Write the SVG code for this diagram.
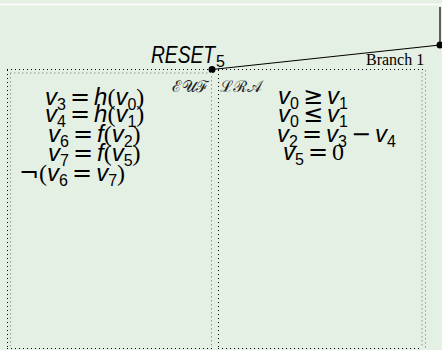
<svg xmlns="http://www.w3.org/2000/svg" width="442" height="350" viewBox="0 0 442 350">
<style>
.m{font-family:"Liberation Sans",Arial,sans-serif;font-size:24px;font-style:italic;fill:#000}
.s{font-style:normal;font-size:16px}
.o{font-family:"DejaVu Sans",sans-serif;font-style:normal}
.p{font-family:"Liberation Serif",serif;font-style:normal}
.cal{font-family:"DejaVu Serif","Noto Sans",serif;font-size:16px;font-style:normal;fill:#222}
.br{font-family:"Liberation Serif",serif;font-size:16px}
.db{stroke:#000;stroke-width:1;stroke-dasharray:1 3;fill:none}
.dg{stroke:#8f998f;stroke-width:1;stroke-dasharray:1.5 2.5;fill:none}
.ln{stroke:#000;stroke-width:1.2;fill:none}
</style>
<rect width="442" height="350" fill="#e5f0e5"/>
<line x1="0" y1="4.5" x2="442" y2="4.5" stroke="#ffffff" stroke-width="1.5"/>
<g id="connectors">
<line class="ln" x1="440" y1="7" x2="440" y2="45"/>
<line class="ln" x1="440" y1="45" x2="212" y2="69.5"/>
<circle cx="440" cy="45" r="3.5" fill="#000"/>
<circle cx="212" cy="69.5" r="3.5" fill="#000"/>
</g>
<g id="reset">
<text class="m" x="151" y="63" textLength="64" lengthAdjust="spacingAndGlyphs">RESET</text>
<text class="m s" x="216" y="67">5</text>
</g>
<g id="branch1">
<text class="br" x="366" y="65">Branch 1</text>
</g>
<g id="euf">
<line class="db" x1="7" y1="69.5" x2="211" y2="69.5"/>
<line class="db" x1="7.5" y1="70" x2="7.5" y2="348"/>
<line class="db" x1="7" y1="348.5" x2="212" y2="348.5"/>
<line class="dg" x1="10.5" y1="73" x2="10.5" y2="346"/>
<line class="dg" x1="10" y1="73" x2="210" y2="73"/>
<line class="dg" x1="211.5" y1="72" x2="211.5" y2="348"/>
<text class="cal" x="172" y="92">ℰ𝒰ℱ</text>
<text class="m" x="45" y="105">v<tspan class="s" dy="5">3</tspan><tspan class="o" dx="4" dy="-5">=</tspan><tspan dx="4">h</tspan><tspan class="p">(</tspan>v<tspan class="s" dy="5">0</tspan><tspan class="p" dy="-5">)</tspan></text>
<text class="m" x="45" y="122">v<tspan class="s" dy="5">4</tspan><tspan class="o" dx="4" dy="-5">=</tspan><tspan dx="4">h</tspan><tspan class="p">(</tspan>v<tspan class="s" dy="5">1</tspan><tspan class="p" dy="-5">)</tspan></text>
<text class="m" x="48" y="142">v<tspan class="s" dy="5">6</tspan><tspan class="o" dx="4" dy="-5">=</tspan><tspan dx="4">f</tspan><tspan class="p">(</tspan>v<tspan class="s" dy="5">2</tspan><tspan class="p" dy="-5">)</tspan></text>
<text class="m" x="48" y="161">v<tspan class="s" dy="5">7</tspan><tspan class="o" dx="4" dy="-5">=</tspan><tspan dx="4">f</tspan><tspan class="p">(</tspan>v<tspan class="s" dy="5">5</tspan><tspan class="p" dy="-5">)</tspan></text>
<text class="m" x="19" y="181"><tspan class="o">¬</tspan><tspan class="p">(</tspan>v<tspan class="s" dy="5">6</tspan><tspan class="o" dx="4" dy="-5">=</tspan><tspan dx="4">v</tspan><tspan class="s" dy="5">7</tspan><tspan class="p" dy="-5">)</tspan></text>
</g>
<g id="lra">
<line class="db" x1="218" y1="69.5" x2="426" y2="69.5"/>
<line class="db" x1="218.5" y1="70" x2="218.5" y2="348"/>
<line class="db" x1="218" y1="348.5" x2="422" y2="348.5"/>
<line class="dg" x1="422" y1="72" x2="422" y2="348"/>
<line class="dg" x1="425.5" y1="70" x2="425.5" y2="348"/>
<text class="cal" x="220" y="92">ℒℛ𝒜</text>
<text class="m" x="278" y="104">v<tspan class="s" dy="5">0</tspan><tspan class="o" dx="4" dy="-5">≥</tspan><tspan dx="4">v</tspan><tspan class="s" dy="5">1</tspan></text>
<text class="m" x="278" y="122">v<tspan class="s" dy="5">0</tspan><tspan class="o" dx="4" dy="-5">≤</tspan><tspan dx="4">v</tspan><tspan class="s" dy="5">1</tspan></text>
<text class="m" x="277" y="142">v<tspan class="s" dy="5">2</tspan><tspan class="o" dx="4" dy="-5">=</tspan><tspan dx="4">v</tspan><tspan class="s" dy="5">3</tspan><tspan class="o" dx="4" dy="-5">−</tspan><tspan dx="4">v</tspan><tspan class="s" dy="5">4</tspan></text>
<text class="m" x="283" y="160">v<tspan class="s" dy="5">5</tspan><tspan class="o" dx="4" dy="-5">=</tspan><tspan class="p" dx="4">0</tspan></text>
</g>
</svg>
